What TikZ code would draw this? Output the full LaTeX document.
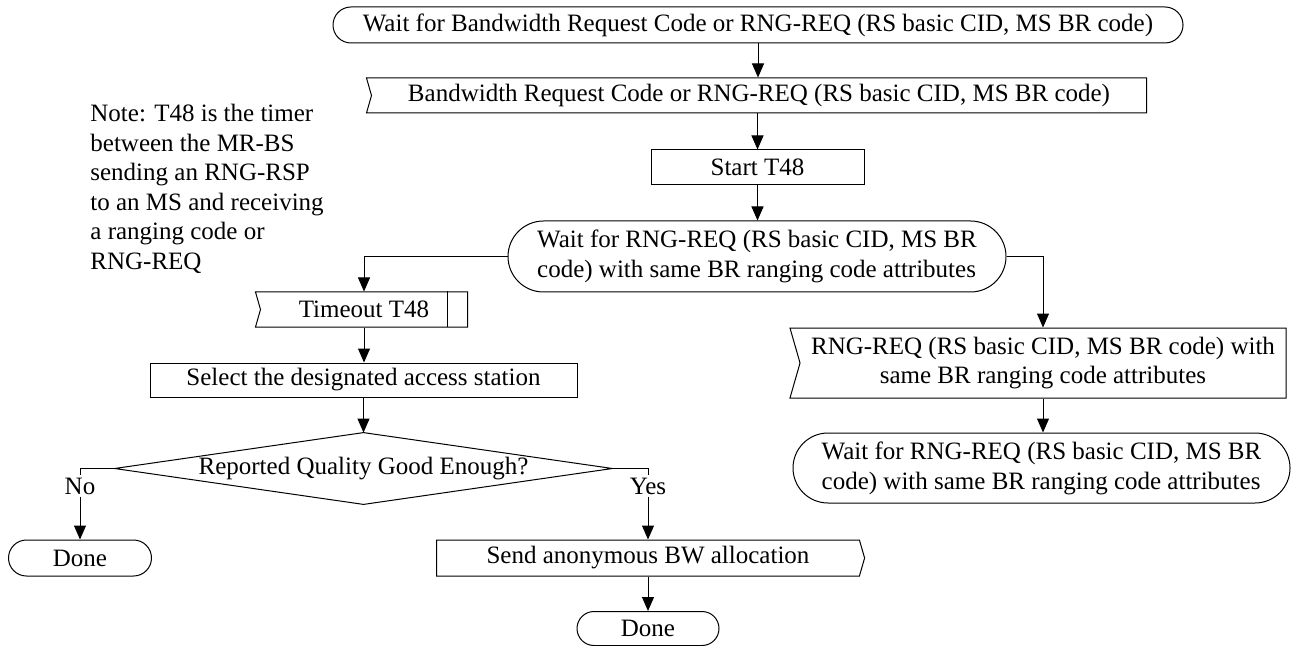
\documentclass[tikz,border=0pt]{standalone}
\usepackage{fontspec}
\setmainfont{Liberation Serif}
\usetikzlibrary{shapes.misc,shapes.symbols,arrows.meta}
\tikzset{
  base/.style={draw, line width=0.5pt, inner sep=0pt, align=center,
    font=\fontsize{12.5}{14.9}\selectfont},
  term/.style={base, rounded rectangle},
  inbox/.style={base, signal, signal to=nowhere, signal from=west, signal pointer angle=148},
  outbox/.style={base, signal, signal to=east, signal from=nowhere, signal pointer angle=148},
  proc/.style={base, rectangle},
  lbl/.style={inner sep=1pt, font=\fontsize{12.5}{14.9}\selectfont},
  arr/.style={line width=0.5pt, -{Triangle[length=7pt,width=6pt]}},
  ln/.style={line width=0.5pt}
}
\begin{document}
\begin{tikzpicture}[x=0.5pt,y=-0.5pt]
\useasboundingbox (0,0) rectangle (1293,646);
% nodes
\node[term, minimum width=425pt, minimum height=18pt] (start) at (758,25)
  {Wait for Bandwidth Request Code or RNG-REQ (RS basic CID, MS BR code)};
\node[inbox, minimum width=390pt, minimum height=17.5pt] (in1) at (759,95.5)
  {Bandwidth Request Code or RNG-REQ (RS basic CID, MS BR code)};
\node[proc, minimum width=106.5pt, minimum height=17.5pt] (st) at (757.5,167.5) {Start T48};
\node[term, minimum width=249pt, minimum height=35.5pt, align=left] (wait1) at (757,256.5)
  {Wait for RNG-REQ (RS basic CID, MS BR\\code) with same BR ranging code attributes};
\node[inbox, minimum width=106pt, minimum height=17.5pt] (tout) at (364,309.5) {Timeout T48};
\draw[ln] ([xshift=-10.5pt]tout.north east) -- ([xshift=-10.5pt]tout.south east);
\node[proc, minimum width=213.5pt, minimum height=17pt] (sel) at (363.5,380) {Select the designated access station};
\node[inner sep=0pt, minimum width=248.5pt, minimum height=35.5pt] (dia) at (363.5,468.5) {};
\draw[ln] (dia.north) -- (dia.east) -- (dia.south) -- (dia.west) -- cycle;
\node[lbl] at (dia.center) [yshift=0pt] {Reported Quality Good Enough?};
\node[lbl] (no) at (80,486) {No};
\node[lbl] (yes) at (648,486) {Yes};
\node[term, minimum width=71.5pt, minimum height=18pt] (done1) at (80,558) {Done};
\node[outbox, minimum width=214pt, minimum height=18pt] (send) at (648,558) {Send anonymous BW allocation};
\node[term, minimum width=71pt, minimum height=17pt] (done2) at (648,628.5) {Done};
\node[inbox, minimum width=248pt, minimum height=35pt] (in3) at (1043,363)
  {RNG-REQ (RS basic CID, MS BR code) with\\same BR ranging code attributes};
\node[term, minimum width=248.5pt, minimum height=35pt, align=left] (wait2) at (1041.5,468)
  {Wait for RNG-REQ (RS basic CID, MS BR\\code) with same BR ranging code attributes};
\node[anchor=north west, inner sep=0pt, align=left, font=\fontsize{12.5}{14.75}\selectfont] (note) at (90,104)
  {Note: T48 is the timer\\between the MR-BS\\sending an RNG-RSP\\to an MS and receiving\\a ranging code or\\RNG-REQ};
% connectors
\draw[arr] (start.south) -- (start.south |- in1.north);
\draw[arr] (in1.south -| st.north) -- (st.north);
\draw[arr] (st.south) -- (st.south |- wait1.north);
\draw[arr] (wait1.west) -| (tout.north);
\draw[arr] (tout.south) -- (tout.south |- sel.north);
\draw[arr] (sel.south) -- (dia.north);
\draw[arr] (wait1.east) -| (in3.north);
\draw[arr] (in3.south) -- (in3.south |- wait2.north);
\draw[ln] (dia.west) -| (no.north);
\draw[arr] (no.south) -- (done1.north);
\draw[ln] (dia.east) -| (yes.north);
\draw[arr] (yes.south) -- (yes.south |- send.north);
\draw[arr] (send.south -| done2.north) -- (done2.north);
\end{tikzpicture}
\end{document}
